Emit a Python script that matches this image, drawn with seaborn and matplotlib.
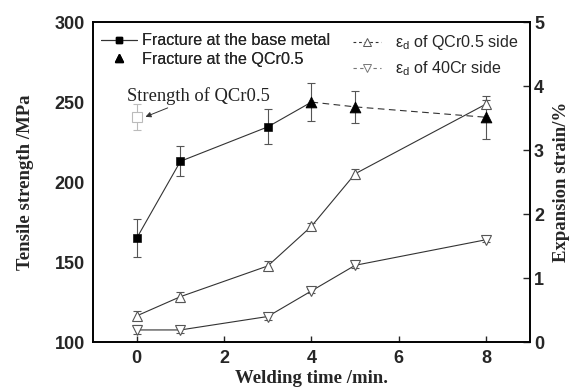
import matplotlib
matplotlib.use("Agg")
import matplotlib.pyplot as plt
import seaborn as sns
import pandas as pd
from matplotlib.lines import Line2D

sns.set_theme(style="ticks")
plt.rcParams['font.family'] = ['Liberation Sans', 'DejaVu Sans']
plt.rcParams['mathtext.fontset'] = 'custom'
plt.rcParams['mathtext.rm'] = 'Liberation Sans'
plt.rcParams['mathtext.it'] = 'Liberation Sans'

# ---- data ----
base_time = [0, 1, 3]
base_strength = [165, 213, 234.5]
base_err = [12, 9.5, 11]

qcr_time = [4, 5, 8]
qcr_strength = [250, 247, 240.5]
qcr_err = [12, 10, 13.5]

ref_time = [0]
ref_strength = [240.5]
ref_err = [8]

strain_time = [0, 1, 3, 4, 5, 8]
strain_qcr = [0.41, 0.71, 1.19, 1.81, 2.63, 3.72]
strain_qcr_err = [0.07, 0.08, 0.07, 0.05, 0.08, 0.06]
strain_40cr = [0.19, 0.19, 0.40, 0.80, 1.20, 1.60]
strain_40cr_err = [0.07, 0.05, 0.06, 0.03, 0.05, 0.04]

line_col = '#333333'
err_col = '#555555'

fig = plt.figure(figsize=(5.71, 3.87), dpi=100)
ax = fig.add_axes([0.163, 0.116, 0.765, 0.827])
ax2 = ax.twinx()

# base metal line (continues to first QCr-fracture point)
line_df = pd.DataFrame({'t': base_time + qcr_time[:1],
                        's': base_strength + qcr_strength[:1]})
sns.lineplot(data=line_df, x='t', y='s', ax=ax, color=line_col, lw=0.8,
             estimator=None, sort=False, legend=False)
base_df = pd.DataFrame({'t': base_time, 's': base_strength})
ax.errorbar(base_time, base_strength, yerr=base_err, fmt='none',
            ecolor=err_col, elinewidth=0.8, capsize=3, capthick=0.8)
sns.scatterplot(data=base_df, x='t', y='s', ax=ax, marker='s', s=30,
                color='black', edgecolor='black', legend=False, zorder=5)

# fracture at QCr0.5
qcr_df = pd.DataFrame({'t': qcr_time, 's': qcr_strength})
sns.lineplot(data=qcr_df, x='t', y='s', ax=ax, color=line_col, lw=0.8,
             estimator=None, legend=False, dashes=False)
ax.lines[-1].set_linestyle((0, (6, 4)))
ax.errorbar(qcr_time, qcr_strength, yerr=qcr_err, fmt='none',
            ecolor=err_col, elinewidth=0.8, capsize=3, capthick=0.8)
sns.scatterplot(data=qcr_df, x='t', y='s', ax=ax, marker='^', s=60,
                color='black', edgecolor='black', legend=False, zorder=5)

# strength of QCr0.5 reference
ax.errorbar(ref_time, ref_strength, yerr=ref_err, fmt='s', mfc='white',
            mec='#bbbbbb', ms=7, ecolor='#bbbbbb', elinewidth=0.8,
            capsize=3, capthick=0.8, mew=0.8)
ax.annotate('Strength of QCr0.5', xy=(0.2, 240.8), xytext=(-0.23, 254),
            fontsize=13.3, family=['Liberation Serif'], va='center', ha='left',
            arrowprops=dict(arrowstyle='-|>', color='#333333', lw=0.7,
                            shrinkA=0, shrinkB=0, mutation_scale=8),
            color='#222222')

# strain series on right axis
s1 = pd.DataFrame({'t': strain_time, 'e': strain_qcr})
s2 = pd.DataFrame({'t': strain_time, 'e': strain_40cr})
for df, errs, mk in [(s1, strain_qcr_err, '^'), (s2, strain_40cr_err, 'v')]:
    sns.lineplot(data=df, x='t', y='e', ax=ax2, color=line_col, lw=0.8,
                 estimator=None, legend=False)
    ax2.errorbar(df['t'], df['e'], yerr=errs, fmt='none', ecolor=err_col,
                 elinewidth=0.8, capsize=3, capthick=0.8)
    ax2.plot(df['t'], df['e'], ls='none', marker=mk, ms=7, mfc='white',
             mec='#555555', mew=0.8, zorder=5)

# axes
ax.set_xlim(-1, 9)
ax.set_ylim(100, 300)
ax2.set_ylim(0, 5)
ax.set_xticks([0, 2, 4, 6, 8])
ax.set_yticks([100, 150, 200, 250, 300])
ax2.set_yticks([0, 1, 2, 3, 4, 5])
for a in (ax, ax2):
    a.tick_params(direction='in', length=4, width=1, labelsize=13, pad=6)
    for lab in a.get_xticklabels() + a.get_yticklabels():
        lab.set_fontweight('bold')
    for sp in a.spines.values():
        sp.set_linewidth(1.2)
        sp.set_color('black')
ax.tick_params(axis='y', length=0, pad=6)
ax2.tick_params(axis='y', direction='in', length=5, pad=3)

ax.set_xlabel('Welding time /min.', fontsize=13.5, fontweight='bold',
              family=['Liberation Serif'], labelpad=1.5)
ax.set_ylabel('Tensile strength /MPa', fontsize=13.5, fontweight='bold',
              family=['Liberation Serif'], labelpad=15)
ax2.set_ylabel('Expansion strain/%', fontsize=13.5, fontweight='bold',
               family=['Liberation Serif'], labelpad=6)

# legends
h1 = [Line2D([], [], color=line_col, lw=0.8, marker='s', ms=5, mfc='black', mec='black'),
      Line2D([], [], ls='none', marker='^', ms=6, mfc='black', mec='black')]
leg1 = ax.legend(h1, ['Fracture at the base metal', 'Fracture at the QCr0.5'],
                 loc='upper left', bbox_to_anchor=(0.0, 0.99), frameon=False,
                 fontsize=11.6, handlelength=2.2, handletextpad=0.35,
                 labelspacing=0.2, borderaxespad=0.1)
ax.add_artist(leg1)
h2 = [Line2D([], [], color=line_col, lw=0.8, ls=(0, (2.5, 2.5)), marker='^', ms=6,
             mfc='white', mec='#555555', mew=0.7),
      Line2D([], [], color='#777777', lw=0.8, ls=(0, (3, 3)), marker='v', ms=6,
             mfc='white', mec='#777777', mew=0.7)]
ax2.legend(h2, [r'$\varepsilon_\mathregular{d}$ of QCr0.5 side',
                r'$\varepsilon_\mathregular{d}$ of 40Cr side'],
           loc='upper right', bbox_to_anchor=(1.0, 1.0), frameon=False,
           fontsize=11.6, handlelength=1.7, handletextpad=0.9,
           labelspacing=0.45, borderaxespad=0.3)

fig.savefig('out.png', dpi=100)
